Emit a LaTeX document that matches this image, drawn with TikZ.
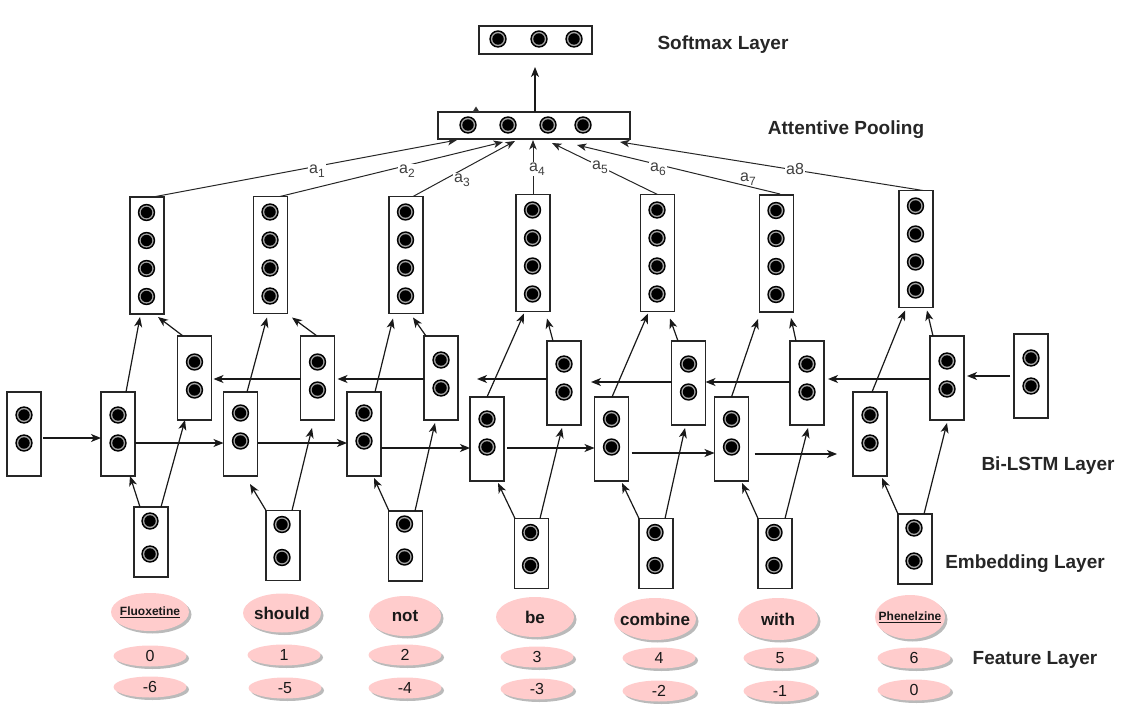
\documentclass[tikz,border=0pt]{standalone}
\usepackage{fontspec}
\setmainfont{Liberation Sans}
\usetikzlibrary{arrows.meta,shapes.geometric,shadows,calc}
\definecolor{pinkf}{RGB}{255,204,204}
\newcommand\dotat[1]{\fill[black] (#1) circle (8.7pt); \fill[black!35] (#1) circle (7.1pt); \fill[black] (#1) circle (5.7pt);}
\newcommand\asub[2]{#1\raisebox{-4pt}{\fontsize{12}{12}\selectfont #2}}
\begin{document}
\begin{tikzpicture}[x=1pt,y=-1pt,
 bx/.style={draw=black!85, line width=1.5pt, fill=white, rectangle, inner sep=0pt, outer sep=0pt, minimum width=34pt},
 bxtwo/.style={bx, minimum height=84pt},
 bxemb/.style={bx, minimum height=70pt},
 bxtop/.style={bx, minimum height=117pt},
 arr/.style={-{Stealth[length=10pt,width=8pt,inset=2.8pt]}, line width=1.2pt, black!90},
 att/.style={-{Stealth[length=9.5pt,width=7.5pt,inset=2.6pt]}, line width=1pt, black!85},
 alab/.style={fill=white, inner sep=1pt, font=\fontsize{16}{18}\selectfont, text=black!75},
 layer/.style={font=\bfseries\fontsize{19}{22}\selectfont, text=black!85},
 shad/.style={drop shadow={shadow xshift=2.5pt, shadow yshift=-2.5pt, opacity=0.45, fill=black!60}},
 ell/.style={ellipse, fill=pinkf, draw=none, inner sep=0pt, shad},
 wtxt/.style={font=\bfseries\fontsize{17}{19}\selectfont, text=black!90, inner sep=0pt},
 utxt/.style={font=\bfseries\fontsize{12}{14}\selectfont, text=black!90, inner sep=0pt},
 ntxt/.style={font=\fontsize{16}{18}\selectfont, text=black!90, inner sep=0pt}
]
\useasboundingbox (0,0) rectangle (1124,711);

% softmax and pooling
\node[bx, minimum width=113pt, minimum height=28pt] (soft) at (535.5,40) {};
\foreach \dx in {-37.5,3.5,38.5}{\dotat{535.5+\dx,39}}
\node[bx, minimum width=192pt, minimum height=27pt] (pool) at (534,125.5) {};
\foreach \dx in {-66,-26,14,49}{\dotat{534+\dx,125}}
\fill[black!80] (472.5,112) -- (476,106.5) -- (479.5,112) -- cycle;
\draw[arr] ($(pool.north)+(1,0)$) -- ($(soft.south)+(-0.5,13)$);

% top boxes
\foreach \n/\x/\y in {top1/147/255.5, top2/270.5/255, top3/406/255, top4/533/253, top5/657.5/253, top6/776.5/253.5, top7/916/249}{
  \node[bxtop] (\n) at (\x,\y) {};
  \foreach \o in {-43,-15,13,41}{\dotat{\x-0.5,\y+\o}}
}

% bi-lstm boxes
\foreach \n/\x/\y/\o in {initf/24/434/-19, fwd1/118/434/-19, fwd2/240.5/434/-21, fwd3/364/434/-21, fwd4/487/439/-20, fwd5/611.5/439/-20, fwd6/731.5/439/-20, fwd7/870/434/-19, bwd1/194.5/378/-16, bwd2/317.5/378/-16, bwd3/441/378/-18, bwd4/564/383/-19, bwd5/688.5/383/-19, bwd6/807/383/-19, bwd7/947/378/-17, initb/1031/376/-18}{
  \node[bxtwo] (\n) at (\x,\y) {};
  \dotat{\x,\y+\o} \dotat{\x,\y+\o+28}
}

% embedding boxes
\foreach \n/\x/\y/\o in {emb1/151/542/-21, emb2/283/545.5/-21, emb3/405.5/546/-22, emb4/531.5/553.5/-21, emb5/656/553.5/-21, emb6/775/553.5/-21, emb7/915/549/-21}{
  \node[bxemb] (\n) at (\x,\y) {};
  \dotat{\x-1,\y+\o} \dotat{\x-1,\y+\o+33}
}

% forward arrows
\draw[arr] ($(initf.east)+(2,4)$) -- ($(fwd1.west)+(0,4)$);
\draw[arr] ($(fwd1.east)+(0,9)$) -- ($(fwd2.west)+(0,9)$);
\draw[arr] ($(fwd2.east)+(0,9)$) -- ($(fwd3.west)+(0,9)$);
\draw[arr] ($(fwd3.east)+(0,14)$) -- ($(fwd4.west)+(0,9)$);
\draw[arr] ($(fwd4.east)+(3,9)$) -- ($(fwd5.west)+(0,9)$);
\draw[arr] ($(fwd5.east)+(3,14)$) -- ($(fwd6.west)+(0,14)$);
\draw[arr] ($(fwd6.east)+(6,15)$) -- ($(fwd7.west)+(-16,20)$);

% backward arrows
\draw[arr] ($(initb.west)+(-4,0)$) -- ($(bwd7.east)+(3,-2)$);
\draw[arr] ($(bwd7.west)+(0,1)$) -- ($(bwd6.east)+(4,-4)$);
\draw[arr] ($(bwd6.west)+(0,-1)$) -- ($(bwd5.east)+(0,-1)$);
\draw[arr] ($(bwd5.west)+(0,-1)$) -- ($(bwd4.east)+(10,-1)$);
\draw[arr] ($(bwd4.west)+(0,-4)$) -- ($(bwd3.east)+(19,1)$);
\draw[arr] ($(bwd3.west)+(0,1)$) -- ($(bwd2.east)+(3,1)$);
\draw[arr] ($(bwd2.west)+(0,1)$) -- ($(bwd1.east)+(2,1)$);

% up to top boxes
\draw[arr] ($(fwd1.north)+(8,0)$) -- ($(top1.south)+(-7,3)$);
\draw[arr] ($(bwd1.north)+(-11.5,0)$) -- ($(top1.south)+(11,3)$);
\draw[arr] ($(fwd2.north)+(6.5,0)$) -- ($(top2.south)+(-3.5,4)$);
\draw[arr] ($(bwd2.north)+(-0.5,0)$) -- ($(top2.south)+(21.5,4)$);
\draw[arr] ($(fwd3.north)+(11,0)$) -- ($(top3.south)+(-13,5)$);
\draw[arr] ($(bwd3.north)+(-15,0)$) -- ($(top3.south)+(7,4)$);
\draw[arr] ($(fwd4.north)+(0,0)$) -- ($(top4.south)+(-9,2)$);
\draw[arr] ($(bwd4.north)+(-11,0)$) -- ($(top4.south)+(14,7)$);
\draw[arr] ($(fwd5.north)+(0.5,0)$) -- ($(top5.south)+(-9.5,2)$);
\draw[arr] ($(bwd5.north)+(-10.5,0)$) -- ($(top5.south)+(12.5,7)$);
\draw[arr] ($(fwd6.north)+(0,0)$) -- ($(top6.south)+(-18.5,7)$);
\draw[arr] ($(bwd6.north)+(-11,0)$) -- ($(top6.south)+(14.5,6)$);
\draw[arr] ($(fwd7.north)+(2,0)$) -- ($(top7.south)+(-11,3)$);
\draw[arr] ($(bwd7.north)+(-14,0)$) -- ($(top7.south)+(11,3)$);

% from embeddings
\draw[arr] ($(emb1.north)+(-11,0)$) -- ($(fwd1.south)+(12,0)$);
\draw[arr] ($(emb1.north)+(10,0)$) -- ($(bwd1.south)+(-9.5,0)$);
\draw[arr] ($(emb2.north)+(-17,0)$) -- ($(fwd2.south)+(9.5,8)$);
\draw[arr] ($(emb2.north)+(9,0)$) -- ($(bwd2.south)+(-5.5,8)$);
\draw[arr] ($(emb3.north)+(-16.5,0)$) -- ($(fwd3.south)+(10,2)$);
\draw[arr] ($(emb3.north)+(9.5,0)$) -- ($(bwd3.south)+(-6,3)$);
\draw[arr] ($(emb4.north)+(-16.5,0)$) -- ($(fwd4.south)+(11,2)$);
\draw[arr] ($(emb4.north)+(8.5,0)$) -- ($(bwd4.south)+(-2,3)$);
\draw[arr] ($(emb5.north)+(-17,0)$) -- ($(fwd5.south)+(10.5,2)$);
\draw[arr] ($(emb5.north)+(9,0)$) -- ($(bwd5.south)+(-3.5,3)$);
\draw[arr] ($(emb6.north)+(-17,0)$) -- ($(fwd6.south)+(10.5,2)$);
\draw[arr] ($(emb6.north)+(10,0)$) -- ($(bwd6.south)+(1,3)$);
\draw[arr] ($(emb7.north)+(-17,0)$) -- ($(fwd7.south)+(12,2)$);
\draw[arr] ($(emb7.north)+(9,0)$) -- ($(bwd7.south)+(0,3)$);

% attention
\draw[att] ($(top1.north)+(6,0)$) -- ($(pool.south)+(-77,1)$);
\draw[att] ($(top2.north)+(9.5,0)$) -- ($(pool.south)+(-31,3)$);
\draw[att] ($(top3.north)+(7,0)$) -- ($(pool.south)+(-19,2)$);
\draw[att] ($(top4.north)+(0,0)$) -- ($(pool.south)+(-1,1)$);
\draw[att] ($(top5.north)+(0,0)$) -- ($(pool.south)+(18,4)$);
\draw[att] ($(top6.north)+(3.5,-1)$) -- ($(pool.south)+(43,6)$);
\draw[att] ($(top7.north)+(7,0)$) -- ($(pool.south)+(86,3)$);
\node[alab] (la1) at (317,171) {\asub{a}{1}};
\node[alab] (la2) at (407,171) {\asub{a}{2}};
\node[alab] (la3) at (462,180) {\asub{a}{3}};
\node[alab] (la4) at (537,169) {\asub{a}{4}};
\node[alab] (la5) at (600,167) {\asub{a}{5}};
\node[alab] (la6) at (658,169) {\asub{a}{6}};
\node[alab, fill=none] (la7) at (748,179) {\asub{a}{7}};
\node[alab] (la8) at (795,169) {a8};

% ellipses
\foreach \n/\x/\y/\w/\h in {w1/150/612/78/38, w2/282/613/78/39, w3/405/616/72/40, w4/535/617/78/40, w5/655/619/82/42, w6/778/619/80/42, w7/910/617/70/44}{
  \node[ell, minimum width=\w pt, minimum height=\h pt] (\n) at (\x,\y) {};
}
\node[utxt] (t1) at (w1) {\underline{Fluoxetine}};
\node[wtxt] (t2) at (w2) {should};
\node[wtxt] (t3) at (w3) {not};
\node[wtxt] (t4) at (w4) {be};
\node[wtxt] (t5) at (w5) {combine};
\node[wtxt] (t6) at (w6) {with};
\node[utxt] (t7) at (w7) {\underline{Phenelzine}};

\foreach \n/\x/\y/\t in {p1/150/656/0, p2/284/655/1, p3/405/655/2, p4/537/657/3, p5/659/658/4, p6/780/658/5, p7/914/658/6, q1/150/687/-6, q2/285/688/-5, q3/405/688/-4, q4/537/689/-3, q5/659/691/-2, q6/780/691/-1, q7/914/690/0}{
  \node[ell, minimum width=73pt, minimum height=21pt] (\n) at (\x,\y) {};
  \node[ntxt] (\n t) at (\n) {\t};
}

% layer labels
\node[layer] (lsoft) at (723,45) {Softmax Layer};
\node[layer] (lpool) at (846,130) {Attentive Pooling};
\node[layer] (llstm) at (1048,466) {Bi-LSTM Layer};
\node[layer] (lemb) at (1025,564) {Embedding Layer};
\node[layer] (lfeat) at (1035,660) {Feature Layer};
\end{tikzpicture}
\end{document}
